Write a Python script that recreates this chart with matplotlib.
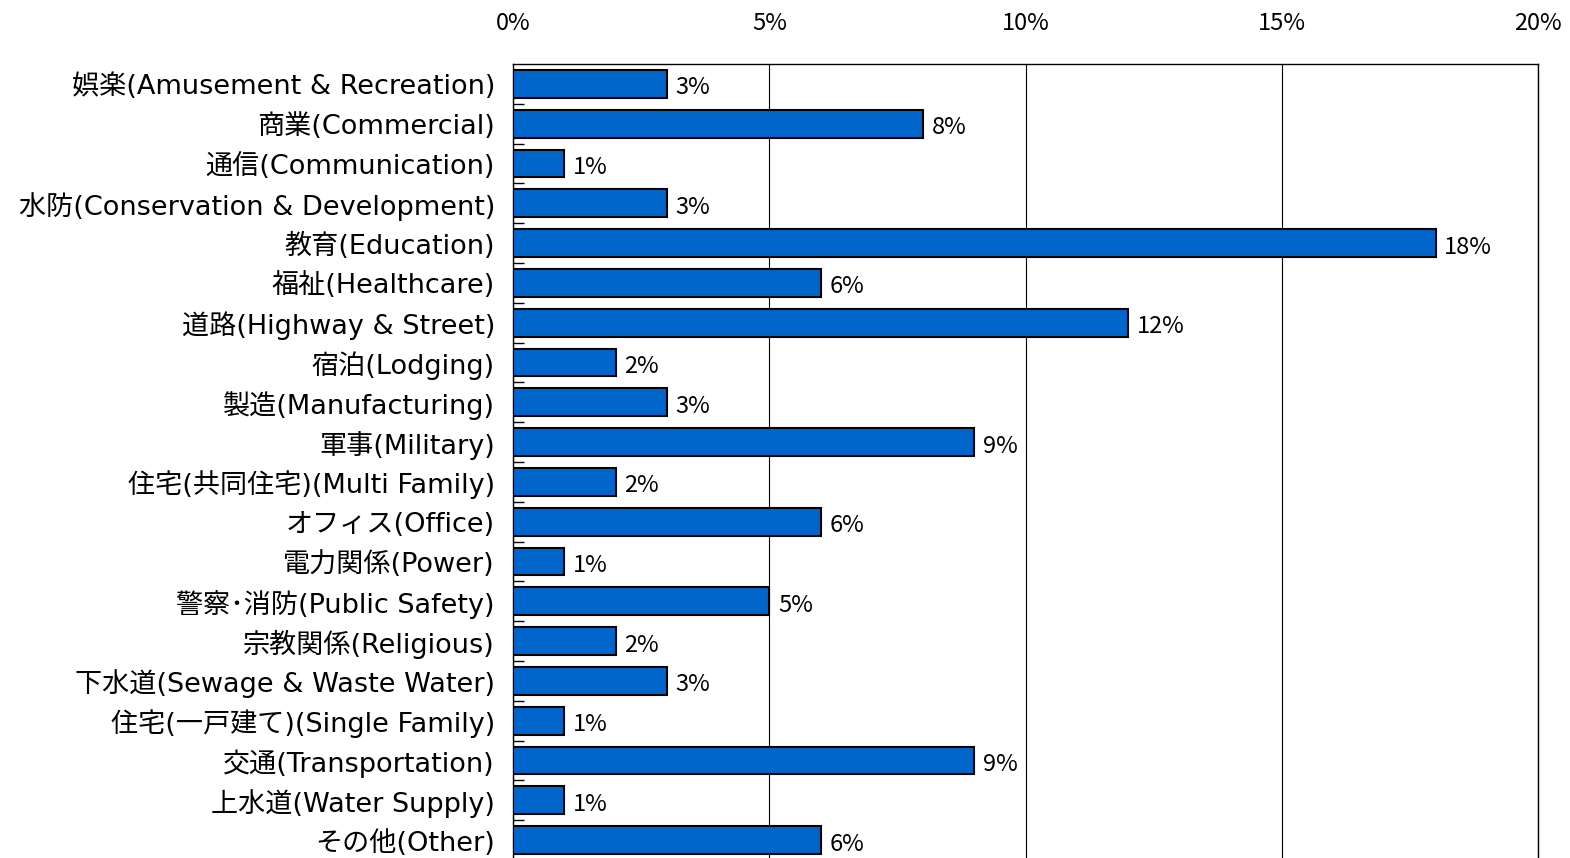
import matplotlib
matplotlib.use("Agg")
import matplotlib.pyplot as plt
import numpy as np

plt.rcParams['font.family'] = ['Noto Sans CJK JP', 'DejaVu Sans']

categories = [
    "娯楽(Amusement & Recreation)",
    "商業(Commercial)",
    "通信(Communication)",
    "水防(Conservation & Development)",
    "教育(Education)",
    "福祉(Healthcare)",
    "道路(Highway & Street)",
    "宿泊(Lodging)",
    "製造(Manufacturing)",
    "軍事(Military)",
    "住宅(共同住宅)(Multi Family)",
    "オフィス(Office)",
    "電力関係(Power)",
    "警察･消防(Public Safety)",
    "宗教関係(Religious)",
    "下水道(Sewage & Waste Water)",
    "住宅(一戸建て)(Single Family)",
    "交通(Transportation)",
    "上水道(Water Supply)",
    "その他(Other)",
]
values = [3, 8, 1, 3, 18, 6, 12, 2, 3, 9, 2, 6, 1, 5, 2, 3, 1, 9, 1, 6]
xticks = [0, 5, 10, 15, 20]
xtick_labels = ["0%", "5%", "10%", "15%", "20%"]

W, H = 1570, 858
fig = plt.figure(figsize=(W / 100, H / 100), dpi=100)
left, right, top, bottom = 513, 1538, 64, 860
ax = fig.add_axes([left / W, (H - bottom) / H, (right - left) / W, (bottom - top) / H])

y = np.arange(len(categories))
ax.barh(y, values, height=0.7, color="#0066CC", edgecolor="black", linewidth=1.5, zorder=3)
for yi, v in zip(y, values):
    ax.text(v + 0.17, yi + 0.1, f"{v}%", va="center", ha="left", fontsize=17, color="black")

ax.set_xlim(0, 20)
ax.set_ylim(len(categories) - 0.5, -0.5)
ax.xaxis.tick_top()
ax.set_xticks(xticks)
ax.set_xticklabels(xtick_labels, fontsize=17)
ax.tick_params(axis="x", length=0, pad=21)
ax.set_yticks(y)
ax.set_yticklabels(categories, fontsize=19.5, family=['DejaVu Sans', 'Noto Sans CJK JP'])
ax.tick_params(axis="y", which="major", length=0, pad=13)
ax.set_yticks(np.arange(len(categories)) + 0.5, minor=True)
ax.tick_params(axis="y", which="minor", direction="in", length=8, width=1)
ax.grid(axis="x", color="black", linewidth=0.8, zorder=0)
for s in ["top", "right", "left"]:
    ax.spines[s].set_linewidth(1.0)
ax.spines["bottom"].set_visible(False)

fig.savefig("out.png", dpi=100)
